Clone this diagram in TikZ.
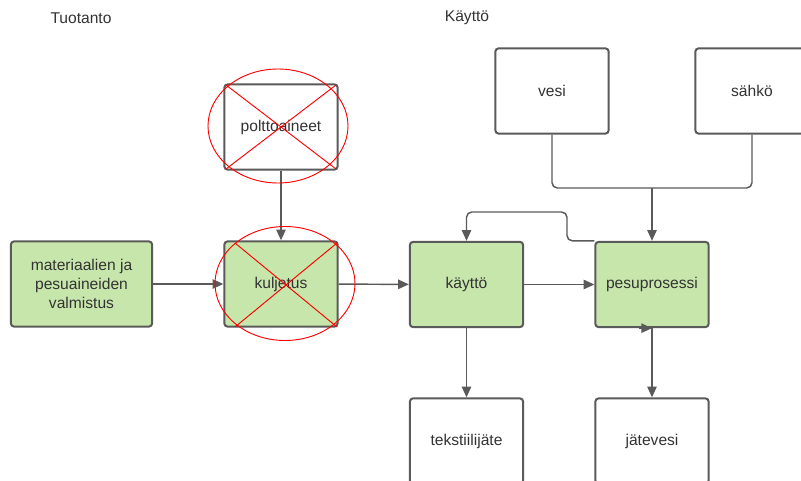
\documentclass[tikz,border=0pt]{standalone}
\usepackage{fontspec}
\setmainfont{Liberation Sans}
\usetikzlibrary{arrows.meta}
\definecolor{vihrea}{HTML}{C7E6AB}
\definecolor{reuna}{HTML}{5A5A5A}
\definecolor{teksti}{HTML}{333333}
\tikzset{
    laatikko/.style={
           rectangle,
           rounded corners=2.5pt,
           draw=reuna, line width=1.5pt,
           minimum width=85pt,
           minimum height=64pt,
           text=teksti,
           align=center,
           font=\fontsize{11.7}{14}\selectfont},
    laatikkov/.style={
           laatikko,
           fill=vihrea},
    leveä/.style={laatikkov, minimum width=106pt},
    nuoli/.style={-{Triangle[length=8pt,width=7pt]}, draw=reuna, line width=1.1pt},
    viiva/.style={draw=reuna, line width=1.1pt},
    otsikko/.style={text=teksti, font=\fontsize{11.7}{14}\selectfont},
    rasti/.style={draw=red, line width=0.7pt}
    }
\begin{document}
\begin{tikzpicture}[x=0.75pt,y=-0.75pt]
      \path[use as bounding box, clip] (0,0) rectangle (801,481);
      \fill[white] (0,0) rectangle (801,481);
      \node[otsikko] (t1) at (81,18) {Tuotanto};
      \node[otsikko] (t2) at (467,18) {Käyttö};
      \node[leveä] (mat) at (81.5,284) {materiaalien ja\\pesuaineiden\\valmistus};
      \node[laatikkov] (kul) at (281,284) {kuljetus};
      \node[laatikko] (pol) at (281,127) {polttoaineet};
      \node[laatikkov] (kay) at (466.5,284.5) {käyttö};
      \node[laatikkov] (pes) at (652,284.5) {pesuprosessi};
      \node[laatikko] (ves) at (552,91) {vesi};
      \node[laatikko] (sah) at (752,91) {sähkö};
      \node[laatikko] (tek) at (466.5,441) {tekstiilijäte};
      \node[laatikko] (jat) at (652,441) {jätevesi};
      \coordinate (liitos) at (652,188);
      \draw[nuoli] (mat) -- (kul);
      \draw[nuoli] (pol) -- (kul);
      \draw[nuoli] (kul) -- (kay);
      \draw[nuoli] (kay) -- (pes);
      \draw[nuoli] (kay) -- (tek);
      \draw[nuoli] (pes) -- (jat);
      \draw[nuoli] ([xshift=-10pt]pes.south) -- (pes.south);
      \draw[viiva, rounded corners=4pt] (ves.south) |- (liitos) -| (sah.south);
      \draw[nuoli] (liitos) -- (pes.north);
      \draw[nuoli, rounded corners=4pt] (pes.north west) -| (567,212) -| (kay.north);
      % yliviivaukset
      \draw[rasti] (278,126) ellipse (70 and 57);
      \draw[rasti] (226,85) -- (336,169);
      \draw[rasti] (336,85) -- (226,169);
      \draw[rasti] (285,283.5) ellipse (70 and 57);
      \draw[rasti] (235,243) -- (337,327);
      \draw[rasti] (337,243) -- (235,327);
\end{tikzpicture}
\end{document}
